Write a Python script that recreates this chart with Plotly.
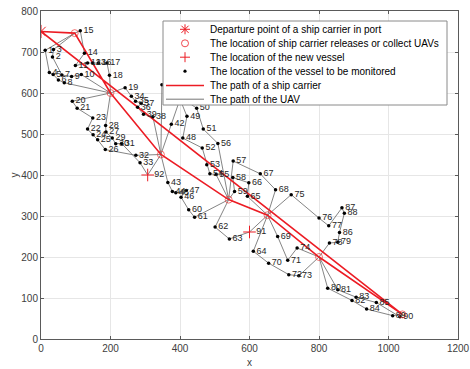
import plotly.graph_objects as go

# ---------------- data ----------------
vessel_id = list(range(1, 91))
vessel_x = [12, 33, 36, 24, 35, 50, 60, 67, 88, 116,
            99, 134, 149, 125, 113, 165, 190, 197, 242, 90,
            104, 134, 149, 150, 163, 185, 187, 186, 205, 215,
            232, 273, 285, 260, 272, 278, 288, 322, 295, 348,
            400, 375, 365, 378, 388, 403, 418, 408, 420, 448,
            467, 464, 477, 486, 504, 509, 553, 552, 557, 425,
            442, 501, 542, 611, 594, 598, 631, 675, 681, 655,
            710, 713, 742, 737, 720, 800, 828, 830, 854, 825,
            854, 895, 907, 937, 965, 859, 866, 873, 1012, 1033]
vessel_y = [704, 688, 706, 650, 645, 632, 644, 625, 640, 645,
            667, 673, 673, 697, 752, 673, 673, 643, 613, 580,
            563, 512, 539, 498, 486, 462, 505, 521, 490, 476,
            477, 448, 430, 592, 580, 565, 575, 542, 548, 620,
            585, 524, 382, 360, 357, 346, 362, 490, 543, 563,
            512, 466, 425, 403, 401, 477, 434, 394, 360, 315,
            297, 273, 244, 214, 348, 381, 403, 364, 250, 185,
            192, 157, 154, 222, 352, 295, 276, 234, 236, 124,
            120, 94, 102, 73, 89, 260, 320, 307, 57, 54]

new_id = [91, 92]
new_x = [600, 307]
new_y = [261, 400]

stop_name = ["P", "S1", "S2", "S3", "S4", "S5", "S6", "S7"]
stop_x = [0, 97, 200, 345, 540, 652, 800, 1040]
stop_y = [750, 746, 600, 450, 340, 302, 200, 60]

carrier_route = ["P", "S1", "S2", "S3", "S4", "S5", "S6", "S7", "P"]

uav_routes = [
    ["S1", 15, 14, 11, 12, 13, 16, 17, 18, "S2"],
    ["S1", 1, 4, 5, 6, 8, "S2"],
    ["S1", 3, 2, 7, 9, 10, "S2"],
    ["S2", 20, 21, 23, 22, 24, 25, 26, 32, "S3"],
    ["S2", 28, 27, 29, 30, 31, 33, 92, "S3"],
    ["S2", 19, 34, 35, 37, 36, 39, 38, "S3"],
    ["S3", 40, 50, 51, 56, "S4"],
    ["S3", 42, 41, 49, 48, 52, 53, 54, 55, "S4"],
    ["S3", 43, 44, 45, 47, 46, 60, 61, "S4"],
    ["S4", 57, 67, 68, "S5"],
    ["S4", 59, 58, 66, 65, "S5"],
    ["S4", 62, 63, 91, "S5"],
    ["S5", 75, 76, 77, 87, 88, 86, 79, 78, "S6"],
    ["S5", 69, 71, 74, "S6"],
    ["S5", 64, 70, 72, 73, "S6"],
    ["S6", 80, 82, 84, 89, "S7"],
    ["S6", 81, 83, 85, 90, "S7"],
]

x_ticks = [0, 200, 400, 600, 800, 1000, 1200]
y_ticks = [0, 100, 200, 300, 400, 500, 600, 700, 800]

legend_labels = [
    "Departure point of a ship carrier in port",
    "The location of ship carrier releases or collect UAVs",
    "The location of the new vessel",
    "The location of the vessel to be monitored",
    "The path of a ship carrier",
    "The path of the UAV",
]

# ---------------- lookups ----------------
node = {}
for i, x, y in zip(vessel_id, vessel_x, vessel_y):
    node[i] = (x, y)
for i, x, y in zip(new_id, new_x, new_y):
    node[i] = (x, y)
for n, x, y in zip(stop_name, stop_x, stop_y):
    node[n] = (x, y)

RED = "rgb(236,28,36)"
GRAY = "rgb(118,118,118)"
FONT = "Liberation Sans, Arial, sans-serif"

fig = go.Figure()

# UAV paths
gx, gy = [], []
for r in uav_routes:
    for k in r:
        gx.append(node[k][0]); gy.append(node[k][1])
    gx.append(None); gy.append(None)
fig.add_trace(go.Scatter(x=gx, y=gy, mode="lines",
                         line=dict(color=GRAY, width=0.9), hoverinfo="skip"))

# carrier path
cx = [node[k][0] for k in carrier_route]
cy = [node[k][1] for k in carrier_route]
fig.add_trace(go.Scatter(x=cx, y=cy, mode="lines",
                         line=dict(color=RED, width=1.6), hoverinfo="skip"))

# vessels to monitor
fig.add_trace(go.Scatter(x=vessel_x, y=vessel_y, mode="markers+text",
                         text=[str(i) for i in vessel_id],
                         textposition="middle right",
                         textfont=dict(family=FONT, size=9, color="#262626"),
                         marker=dict(color="black", size=3.5)))

# new vessels
fig.add_trace(go.Scatter(x=new_x, y=new_y, mode="markers+text",
                         text=[str(i) for i in new_id],
                         textposition="middle right",
                         textfont=dict(family=FONT, size=9, color="#262626"),
                         marker=dict(symbol="cross-thin-open", size=9,
                                     line=dict(color=RED, width=1), color=RED)))

# release / collect points
fig.add_trace(go.Scatter(x=stop_x[1:], y=stop_y[1:], mode="markers",
                         marker=dict(symbol="circle-open", size=7,
                                     line=dict(color="rgba(240,40,40,0.8)", width=0.8),
                                     color="rgba(240,40,40,0.8)")))

# port
fig.add_trace(go.Scatter(x=stop_x[:1], y=stop_y[:1], mode="markers",
                         marker=dict(symbol="asterisk-open", size=11,
                                     line=dict(color=RED, width=1), color=RED)))

# ---------------- manual legend ----------------
L, R_, T, B = 41, 12, 11, 30
W, H = 470, 369
pw, ph = W - L - R_, H - T - B


def px(x):
    return (x - L) / pw


def py(y):
    return (H - B - y) / ph


shapes = []
shapes.append(dict(type="rect", xref="paper", yref="paper", layer="above",
                   x0=px(163), x1=px(447), y0=py(105), y1=py(21),
                   fillcolor="white", line=dict(color="#8a8a8a", width=1)))
row_y = [29.3, 43.3, 57.2, 71.2, 85.5, 99.2]
sx = px(185)


def pshape(kind, yy, x0, y0, x1, y1, **kw):
    d = dict(type=kind, xref="paper", yref="paper", layer="above",
             xsizemode="pixel", ysizemode="pixel", xanchor=sx, yanchor=py(yy),
             x0=x0, y0=y0, x1=x1, y1=y1)
    d.update(kw)
    return d

# asterisk
for (a, b, c, d) in [(-5, 0, 5, 0), (0, -5, 0, 5), (-3.6, -3.6, 3.6, 3.6), (-3.6, 3.6, 3.6, -3.6)]:
    shapes.append(pshape("line", row_y[0], a, b, c, d, line=dict(color=RED, width=1)))
# circle
shapes.append(pshape("circle", row_y[1], -3.5, -3.5, 3.5, 3.5, line=dict(color=RED, width=0.8)))
# plus
for (a, b, c, d) in [(-5, 0, 5, 0), (0, -5, 0, 5)]:
    shapes.append(pshape("line", row_y[2], a, b, c, d, line=dict(color=RED, width=1)))
# dot
shapes.append(pshape("circle", row_y[3], -1.6, -1.6, 1.6, 1.6, fillcolor="black", line=dict(color="black", width=0)))
# lines
shapes.append(dict(type="line", xref="paper", yref="paper", layer="above",
                   x0=px(166), x1=px(204), y0=py(row_y[4]), y1=py(row_y[4]),
                   line=dict(color=RED, width=1.6)))
shapes.append(dict(type="line", xref="paper", yref="paper", layer="above",
                   x0=px(166), x1=px(204), y0=py(row_y[5]), y1=py(row_y[5]),
                   line=dict(color=GRAY, width=1)))

annotations = []
for lab, yy in zip(legend_labels, row_y):
    annotations.append(dict(text=lab, xref="paper", yref="paper", x=px(207.5), y=py(yy),
                            xanchor="left", yanchor="middle", showarrow=False,
                            font=dict(family=FONT, size=10, color="black")))

axis_common = dict(showgrid=True, gridcolor="#e6e6e6", gridwidth=1,
                   showline=True, linecolor="#5a5a5a", linewidth=1, mirror="ticks",
                   ticks="inside", ticklen=3, tickcolor="#5a5a5a",
                   tickfont=dict(family=FONT, size=10, color="#404040"),
                   zeroline=False, automargin=False)

fig.update_layout(
    width=W, height=H,
    margin=dict(l=L, r=R_, t=T, b=B),
    paper_bgcolor="white", plot_bgcolor="white",
    showlegend=False,
    shapes=shapes, annotations=annotations,
    xaxis=dict(range=[0, 1200], tickvals=x_ticks, ticktext=[str(v) for v in x_ticks],
               title=dict(text="x", font=dict(family=FONT, size=10, color="#404040"), standoff=5),
               **axis_common),
    yaxis=dict(range=[0, 800], tickvals=y_ticks, ticktext=[str(v) for v in y_ticks],
               title=dict(text="y", font=dict(family=FONT, size=10, color="#404040"), standoff=0),
               **axis_common),
)

fig.write_html("out.html")
